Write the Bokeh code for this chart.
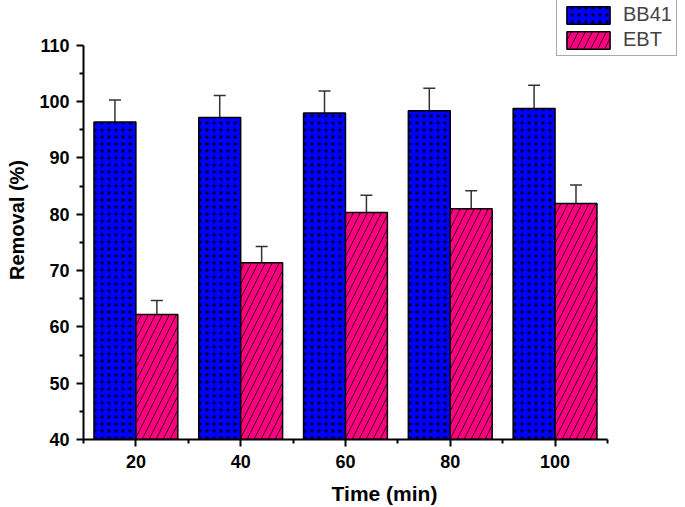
from bokeh.plotting import figure
from bokeh.models import ColumnDataSource, FixedTicker, Whisker, TeeHead, Legend, LegendItem
from bokeh.transform import dodge
from bokeh.embed import file_html
from bokeh.resources import INLINE

times = [20, 40, 60, 80, 100]
bb41 = [96.4, 97.2, 98.0, 98.4, 98.8]
bb41_err = [3.9, 3.9, 3.9, 4.0, 4.1]
ebt = [62.2, 71.4, 80.3, 81.0, 81.9]
ebt_err = [2.5, 2.9, 3.1, 3.2, 3.3]

src = ColumnDataSource(dict(
    time=times, bb41=bb41, ebt=ebt,
    bb41_lo=[v - e for v, e in zip(bb41, bb41_err)],
    bb41_hi=[v + e for v, e in zip(bb41, bb41_err)],
    ebt_lo=[v - e for v, e in zip(ebt, ebt_err)],
    ebt_hi=[v + e for v, e in zip(ebt, ebt_err)],
))

FONT = "Liberation Sans"

# frame extends to the top/right edge so the legend can sit in the corner;
# axis lines are bounded to the data extent
p = figure(width=685, height=507, x_range=(10, 124.9), y_range=(40, 117.97),
           output_backend="svg", toolbar_location=None,
           min_border_left=83, min_border_right=0, min_border_top=0, min_border_bottom=67)
p.outline_line_color = None
p.grid.visible = False
p.background_fill_color = "white"
p.border_fill_color = "white"

r1 = p.vbar(x=dodge("time", -4), top="bb41", bottom=40, width=8, source=src,
            fill_color="#0000FF", line_color="black", line_width=1.5,
            hatch_pattern="dot", hatch_color="black", hatch_scale=7, hatch_weight=0.8, hatch_alpha=0.8)
r2 = p.vbar(x=dodge("time", 4), top="ebt", bottom=40, width=8, source=src,
            fill_color="#FF0080", line_color="black", line_width=1.5,
            hatch_pattern="right_diagonal_line", hatch_color="black", hatch_scale=14, hatch_weight=1, hatch_alpha=0.8)

for base, lo, hi in [(dodge("time", -4), "bb41_lo", "bb41_hi"), (dodge("time", 4), "ebt_lo", "ebt_hi")]:
    w = Whisker(base=base, lower=lo, upper=hi, source=src, line_color="#333333", line_width=1.5,
                upper_head=TeeHead(size=12, line_color="#333333", line_width=1.5),
                lower_head=TeeHead(size=12, line_color="#333333", line_width=1.5))
    p.add_layout(w)

p.xaxis.ticker = FixedTicker(ticks=times, minor_ticks=[10, 30, 50, 70, 90, 110])
p.yaxis.ticker = FixedTicker(ticks=list(range(40, 111, 10)), minor_ticks=list(range(45, 110, 10)))
p.xaxis.bounds = (10, 110)
p.yaxis.bounds = (40, 110)

for ax in (p.xaxis, p.yaxis):
    ax.axis_line_width = 2
    ax.axis_line_color = "black"
    ax.major_tick_line_width = 2
    ax.minor_tick_line_width = 2
    ax.major_tick_out = 7
    ax.major_tick_in = 0
    ax.minor_tick_out = 4
    ax.minor_tick_in = 0
    ax.major_label_text_font = FONT
    ax.major_label_text_font_style = "bold"
    ax.major_label_text_font_size = "18px"
    ax.major_label_text_color = "black"
    ax.axis_label_text_font = FONT
    ax.axis_label_text_font_style = "bold"
    ax.axis_label_text_color = "black"

p.xaxis.axis_label = "Time (min)"
p.yaxis.axis_label = "Removal (%)"
p.xaxis.axis_label_text_font_size = "21px"
p.yaxis.axis_label_text_font_size = "20px"
p.xaxis.major_label_standoff = 8
p.xaxis.axis_label_standoff = 11
p.yaxis.major_label_standoff = 7
p.yaxis.axis_label_standoff = 8

legend = Legend(items=[LegendItem(label="BB41", renderers=[r1]), LegendItem(label="EBT", renderers=[r2])],
                location=(473, 383), glyph_width=54, glyph_height=22, spacing=2,
                padding=4, margin=0, label_text_font=FONT, label_text_font_size="20px",
                label_standoff=8, border_line_color="#555555", border_line_width=1.5,
                background_fill_color="white", background_fill_alpha=1)
p.add_layout(legend, "center")

open("out.html", "w").write(file_html(p, INLINE))
